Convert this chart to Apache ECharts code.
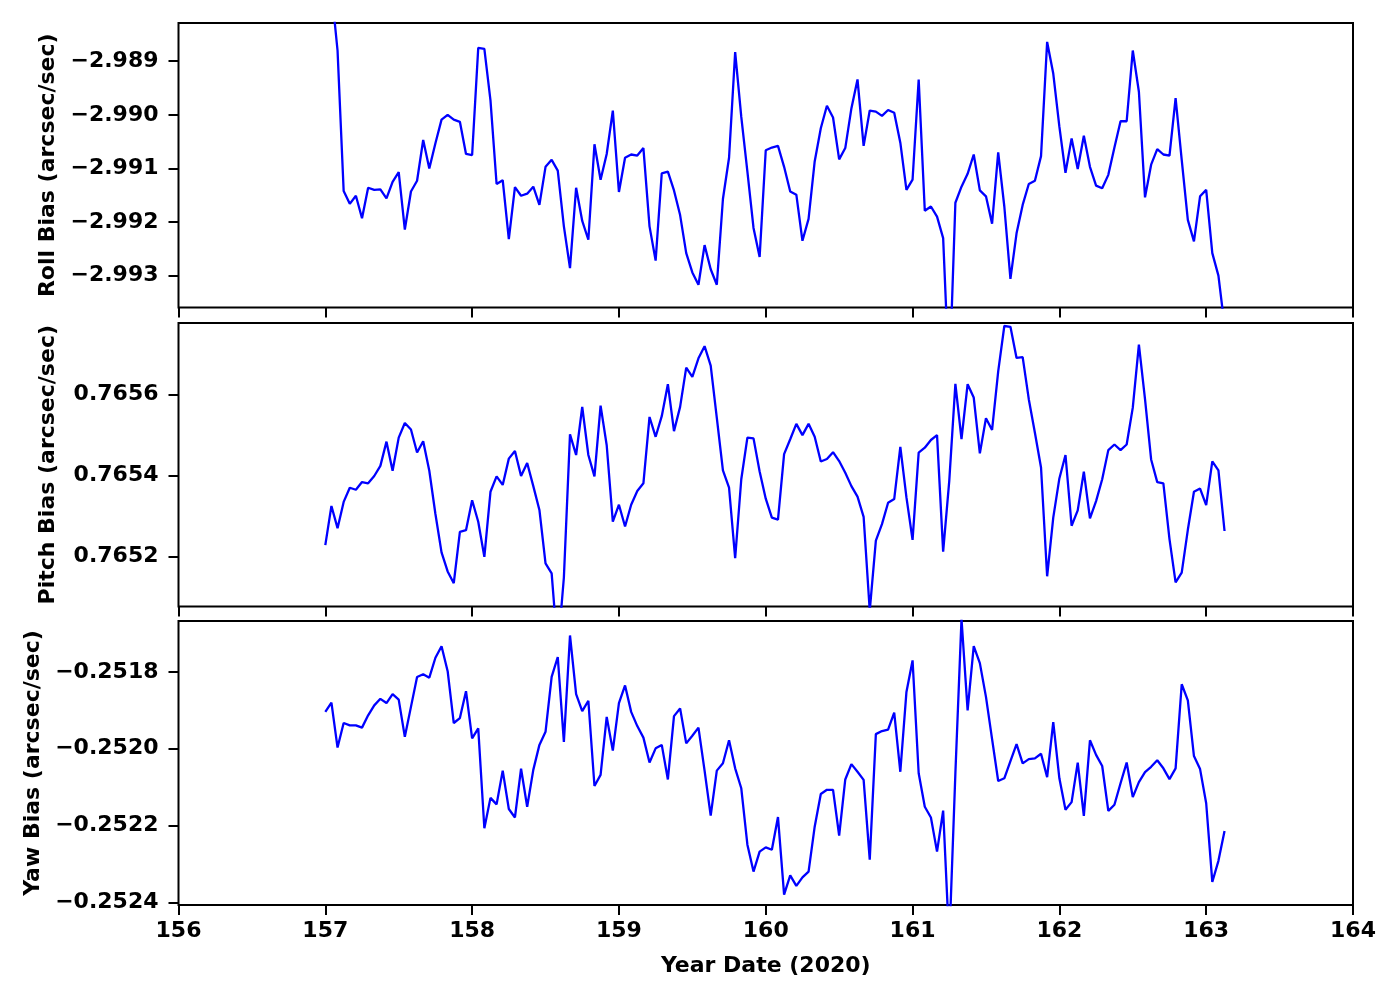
<!DOCTYPE html>
<html>
<head>
<meta charset="utf-8">
<script src="https://cdn.jsdelivr.net/npm/echarts@6/dist/echarts.min.js"></script>
<style>
html,body{margin:0;padding:0;background:#fff;}
#c{width:1400px;height:1000px;}
</style>
</head>
<body>
<div id="c"></div>
<script>
// Hourly samples starting at day 157.0 (2020)
const startDay = 157.0;
const stepDay = 1 / 24;

const rollBias = [
-2.98720,-2.98766,-2.98880,-2.99142,-2.99166,-2.99151,-2.99193,-2.99136,-2.99140,-2.99139,
-2.99156,-2.99125,-2.99107,-2.99214,-2.99143,-2.99123,-2.99047,-2.99100,-2.99053,-2.99009,
-2.99000,-2.99009,-2.99013,-2.99073,-2.99075,-2.98875,-2.98877,-2.98973,-2.99129,-2.99122,
-2.99232,-2.99135,-2.99151,-2.99147,-2.99134,-2.99168,-2.99097,-2.99084,-2.99104,-2.99208,
-2.99286,-2.99136,-2.99198,-2.99233,-2.99055,-2.99121,-2.99073,-2.98992,-2.99144,-2.99080,
-2.99074,-2.99076,-2.99062,-2.99208,-2.99272,-2.99109,-2.99106,-2.99141,-2.99187,-2.99258,
-2.99294,-2.99317,-2.99243,-2.99288,-2.99317,-2.99157,-2.99080,-2.98883,-2.99004,-2.99106,
-2.99211,-2.99265,-2.99066,-2.99061,-2.99058,-2.99097,-2.99143,-2.99149,-2.99235,-2.99194,
-2.99087,-2.99025,-2.98983,-2.99005,-2.99083,-2.99062,-2.98988,-2.98934,-2.99058,-2.98992,
-2.98994,-2.99002,-2.98991,-2.98996,-2.99052,-2.99140,-2.99121,-2.98934,-2.99179,-2.99171,
-2.99190,-2.99230,-2.99500,-2.99164,-2.99134,-2.99110,-2.99074,-2.99141,-2.99152,-2.99203,
-2.99070,-2.99171,-2.99306,-2.99221,-2.99168,-2.99129,-2.99123,-2.99077,-2.98864,-2.98923,
-2.99022,-2.99108,-2.99044,-2.99101,-2.99039,-2.99097,-2.99132,-2.99137,-2.99112,-2.99061,
-2.99012,-2.99012,-2.98880,-2.98957,-2.99154,-2.99093,-2.99064,-2.99074,-2.99076,-2.98969,
-2.99084,-2.99196,-2.99236,-2.99152,-2.99140,-2.99258,-2.99300,-2.99394
];

const pitchBias = [
0.765228,0.765325,0.765270,0.765335,0.765370,0.765365,0.765384,0.765381,0.765399,0.765424,
0.765484,0.765412,0.765494,0.765530,0.765514,0.765457,0.765485,0.765412,0.765305,0.765210,
0.765163,0.765134,0.765261,0.765265,0.765339,0.765286,0.765199,0.765360,0.765398,0.765377,
0.765442,0.765461,0.765399,0.765431,0.765374,0.765315,0.765183,0.765158,0.764967,0.765148,
0.765502,0.765451,0.765570,0.765451,0.765398,0.765573,0.765475,0.765286,0.765328,0.765274,
0.765328,0.765362,0.765381,0.765545,0.765496,0.765547,0.765626,0.765510,0.765570,0.765667,
0.765644,0.765690,0.765720,0.765672,0.765543,0.765413,0.765370,0.765196,0.765391,0.765494,
0.765492,0.765410,0.765343,0.765296,0.765291,0.765453,0.765490,0.765528,0.765500,0.765528,
0.765496,0.765435,0.765441,0.765458,0.765436,0.765407,0.765374,0.765348,0.765298,0.765066,
0.765239,0.765280,0.765333,0.765342,0.765471,0.765346,0.765241,0.765457,0.765469,0.765488,
0.765500,0.765212,0.765387,0.765627,0.765490,0.765626,0.765593,0.765455,0.765542,0.765513,
0.765658,0.765770,0.765768,0.765691,0.765693,0.765589,0.765506,0.765420,0.765151,0.765296,
0.765393,0.765451,0.765276,0.765314,0.765410,0.765294,0.765337,0.765391,0.765463,0.765477,
0.765463,0.765477,0.765568,0.765724,0.765589,0.765440,0.765384,0.765381,0.765243,0.765136,
0.765160,0.765266,0.765360,0.765368,0.765327,0.765435,0.765413,0.765263
];

const yawBias = [
-0.251904,-0.251880,-0.251997,-0.251933,-0.251939,-0.251939,-0.251945,-0.251913,-0.251887,-0.251870,
-0.251881,-0.251858,-0.251872,-0.251969,-0.251891,-0.251813,-0.251806,-0.251815,-0.251763,-0.251733,
-0.251798,-0.251933,-0.251920,-0.251850,-0.251973,-0.251947,-0.252207,-0.252128,-0.252145,-0.252057,
-0.252157,-0.252179,-0.252052,-0.252151,-0.252055,-0.251990,-0.251956,-0.251813,-0.251761,-0.251982,
-0.251705,-0.251858,-0.251902,-0.251875,-0.252097,-0.252068,-0.251917,-0.252005,-0.251881,-0.251835,
-0.251904,-0.251941,-0.251971,-0.252036,-0.251999,-0.251990,-0.252080,-0.251915,-0.251895,-0.251986,
-0.251966,-0.251945,-0.252057,-0.252174,-0.252057,-0.252038,-0.251978,-0.252051,-0.252103,-0.252250,
-0.252320,-0.252268,-0.252257,-0.252263,-0.252178,-0.252380,-0.252330,-0.252357,-0.252335,-0.252320,
-0.252203,-0.252118,-0.252107,-0.252107,-0.252226,-0.252080,-0.252040,-0.252060,-0.252081,-0.252289,
-0.251962,-0.251954,-0.251950,-0.251906,-0.252060,-0.251852,-0.251770,-0.252064,-0.252151,-0.252179,
-0.252268,-0.252161,-0.252506,-0.252064,-0.251662,-0.251900,-0.251733,-0.251777,-0.251865,-0.251975,
-0.252084,-0.252077,-0.252032,-0.251988,-0.252038,-0.252027,-0.252025,-0.252013,-0.252074,-0.251931,
-0.252077,-0.252159,-0.252139,-0.252036,-0.252175,-0.251978,-0.252016,-0.252045,-0.252162,-0.252146,
-0.252090,-0.252036,-0.252126,-0.252087,-0.252061,-0.252047,-0.252030,-0.252051,-0.252079,-0.252051,
-0.251832,-0.251874,-0.252019,-0.252053,-0.252142,-0.252347,-0.252292,-0.252214
];

const xTicks = [156, 157, 158, 159, 160, 161, 162, 163, 164];
const rollTicks = [-2.989, -2.990, -2.991, -2.992, -2.993];
const pitchTicks = [0.7656, 0.7654, 0.7652];
const yawTicks = [-0.2518, -0.2520, -0.2522, -0.2524];

const xLabel = 'Year Date (2020)';
const rollLabel = 'Roll Bias (arcsec/sec)';
const pitchLabel = 'Pitch Bias (arcsec/sec)';
const yawLabel = 'Yaw Bias (arcsec/sec)';

function pairs(vals) {
  return vals.map((v, i) => [startDay + i * stepDay, v]);
}
function fmt(dec) {
  return v => (v < 0 ? '\u2212' : '') + Math.abs(v).toFixed(dec);
}

const FONT = 'DejaVu Sans';
const FS = 22;
const LEFT = 178.5, WIDTH = 1174.5;
const grids = [
  {left: LEFT, top: 23, width: WIDTH, height: 284.5},
  {left: LEFT, top: 323, width: WIDTH, height: 283.5},
  {left: LEFT, top: 621, width: WIDTH, height: 284}
].map(g => Object.assign(g, {show: true, borderColor: '#000', borderWidth: 2, backgroundColor: '#fff', containLabel: false}));

function xAxis(idx, showLabels) {
  return {
    type: 'value', gridIndex: idx, min: xTicks[0], max: xTicks[xTicks.length - 1], interval: 1,
    axisLine: {show: false},
    axisTick: {show: true, inside: false, length: 10, lineStyle: {color: '#000', width: 2}},
    axisLabel: {show: showLabels, color: '#000', fontFamily: FONT, fontWeight: 'bold', fontSize: FS, margin: 15,
      formatter: v => String(v)},
    splitLine: {show: false},
    name: showLabels ? xLabel : '', nameLocation: 'middle', nameGap: 50,
    nameTextStyle: {color: '#000', fontFamily: FONT, fontWeight: 'bold', fontSize: FS}
  };
}
function yAxis(idx, min, max, ticks, dec, name) {
  return {
    type: 'value', gridIndex: idx, min: min, max: max,
    axisLine: {show: false},
    axisTick: {show: true, inside: false, length: 10, customValues: ticks, lineStyle: {color: '#000', width: 2}},
    axisLabel: {show: true, customValues: ticks, color: '#000', fontFamily: FONT, fontWeight: 'bold', fontSize: FS, margin: 20,
      formatter: fmt(dec)},
    splitLine: {show: false},
    name: name, nameLocation: 'middle', nameGap: 119,
    nameTextStyle: {color: '#000', fontFamily: FONT, fontWeight: 'bold', fontSize: FS}
  };
}

const chart = echarts.init(document.getElementById('c'), null, {renderer: 'canvas'});
const lineStyle = {color: '#0000ff', width: 2.3};
chart.setOption({
  animation: false,
  backgroundColor: '#fff',
  grid: grids,
  xAxis: [xAxis(0, false), xAxis(1, false), xAxis(2, true)],
  yAxis: [
    yAxis(0, -2.993594, -2.988287, rollTicks, 3, rollLabel),
    yAxis(1, 0.7650763, 0.7657774, pitchTicks, 4, pitchLabel),
    yAxis(2, -0.2524070, -0.2516673, yawTicks, 4, yawLabel)
  ],
  series: [
    {type: 'line', xAxisIndex: 0, yAxisIndex: 0, data: pairs(rollBias), showSymbol: false, clip: true, lineStyle: lineStyle, itemStyle: {color: '#0000ff'}},
    {type: 'line', xAxisIndex: 1, yAxisIndex: 1, data: pairs(pitchBias), showSymbol: false, clip: true, lineStyle: lineStyle, itemStyle: {color: '#0000ff'}},
    {type: 'line', xAxisIndex: 2, yAxisIndex: 2, data: pairs(yawBias), showSymbol: false, clip: true, lineStyle: lineStyle, itemStyle: {color: '#0000ff'}}
  ]
});
</script>
</body>
</html>
